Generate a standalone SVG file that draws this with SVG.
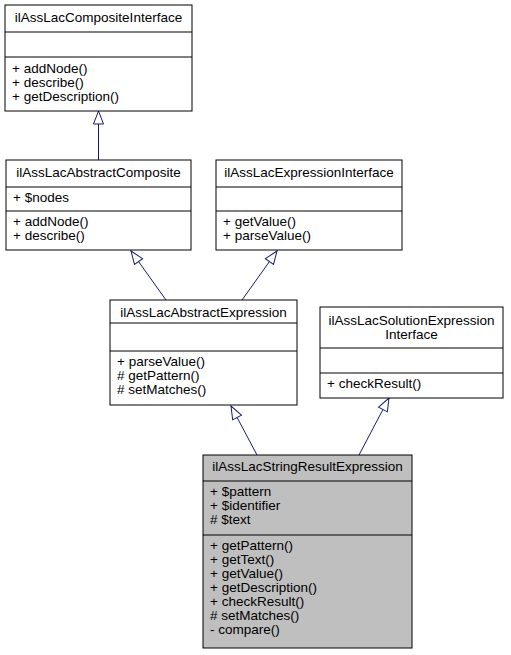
<svg xmlns="http://www.w3.org/2000/svg" width="511" height="655" viewBox="0 0 511 655">
<defs>
<style>
.box{fill:#ffffff;stroke:#000000;stroke-width:1}
.hl{fill:#bfbfbf;stroke:#000000;stroke-width:1}
.div{stroke:#000000;stroke-width:1}
text{font-family:"Liberation Sans",Arial,Helvetica,sans-serif;font-size:13.5px;fill:#000000}
.t{text-anchor:middle}
.edge{stroke:#191970;stroke-width:1;fill:none}
</style>
<marker id="inh" markerUnits="userSpaceOnUse" viewBox="-1 -7 16 14" refX="13" refY="0" markerWidth="16" markerHeight="14" orient="auto">
<path d="M0,-5 L13,0 L0,5 Z" fill="#ffffff" stroke="#191970" stroke-width="1"/>
</marker>
</defs>
<rect width="511" height="655" fill="#ffffff"/>
<g id="connectors">
<path class="edge" d="M98.5,160 L98.5,111" marker-end="url(#inh)"/>
<path class="edge" d="M166,300 L131,251" marker-end="url(#inh)"/>
<path class="edge" d="M242,300 L277,251" marker-end="url(#inh)"/>
<path class="edge" d="M257,455 L231,406" marker-end="url(#inh)"/>
<path class="edge" d="M359,455 L389,398" marker-end="url(#inh)"/>
</g>
<g id="ilAssLacCompositeInterface">
<rect class="box" x="5" y="5" width="187" height="106"/>
<line class="div" x1="5" y1="32" x2="192" y2="32"/>
<line class="div" x1="5" y1="57" x2="192" y2="57"/>
<text class="t" x="98.5" y="22">ilAssLacCompositeInterface</text>
<text x="12" y="73">+ addNode()</text>
<text x="12" y="87">+ describe()</text>
<text x="12" y="101">+ getDescription()</text>
</g>
<g id="ilAssLacAbstractComposite">
<rect class="box" x="6" y="160" width="185" height="90"/>
<line class="div" x1="6" y1="187" x2="191" y2="187"/>
<line class="div" x1="6" y1="211" x2="191" y2="211"/>
<text class="t" x="98.5" y="177">ilAssLacAbstractComposite</text>
<text x="13" y="202">+ $nodes</text>
<text x="13" y="226">+ addNode()</text>
<text x="13" y="240">+ describe()</text>
</g>
<g id="ilAssLacExpressionInterface">
<rect class="box" x="216" y="160" width="186" height="90"/>
<line class="div" x1="216" y1="187" x2="402" y2="187"/>
<line class="div" x1="216" y1="211" x2="402" y2="211"/>
<text class="t" x="309" y="177">ilAssLacExpressionInterface</text>
<text x="223" y="226">+ getValue()</text>
<text x="223" y="240">+ parseValue()</text>
</g>
<g id="ilAssLacAbstractExpression">
<rect class="box" x="110" y="300" width="187" height="105"/>
<line class="div" x1="110" y1="323" x2="297" y2="323"/>
<line class="div" x1="110" y1="351" x2="297" y2="351"/>
<text class="t" x="203.5" y="317">ilAssLacAbstractExpression</text>
<text x="117" y="366">+ parseValue()</text>
<text x="117" y="380"># getPattern()</text>
<text x="117" y="394"># setMatches()</text>
</g>
<g id="ilAssLacSolutionExpressionInterface">
<rect class="box" x="320" y="307" width="183" height="91"/>
<line class="div" x1="320" y1="348" x2="503" y2="348"/>
<line class="div" x1="320" y1="373" x2="503" y2="373"/>
<text class="t" x="411.5" y="325">ilAssLacSolutionExpression</text>
<text class="t" x="411.5" y="339">Interface</text>
<text x="327" y="388">+ checkResult()</text>
</g>
<g id="ilAssLacStringResultExpression">
<rect class="hl" x="203" y="455" width="209" height="193"/>
<line class="div" x1="203" y1="481" x2="412" y2="481"/>
<line class="div" x1="203" y1="535" x2="412" y2="535"/>
<text class="t" x="307.5" y="471">ilAssLacStringResultExpression</text>
<text x="210" y="496">+ $pattern</text>
<text x="210" y="510">+ $identifier</text>
<text x="210" y="524"># $text</text>
<text x="210" y="550">+ getPattern()</text>
<text x="210" y="564">+ getText()</text>
<text x="210" y="578">+ getValue()</text>
<text x="210" y="592">+ getDescription()</text>
<text x="210" y="606">+ checkResult()</text>
<text x="210" y="620"># setMatches()</text>
<text x="210" y="634">- compare()</text>
</g>
</svg>
